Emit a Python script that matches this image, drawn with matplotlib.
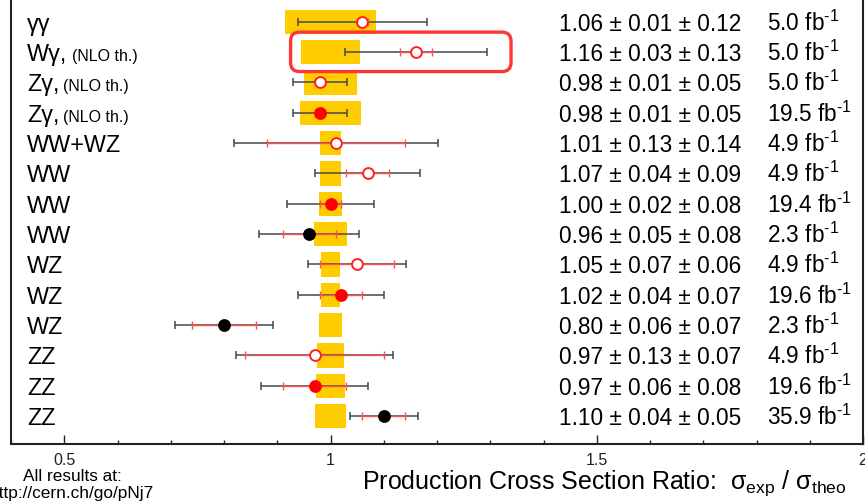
import numpy as np
import matplotlib
matplotlib.use("Agg")
import matplotlib.pyplot as plt
from matplotlib.ticker import MultipleLocator, FixedLocator
from matplotlib.patches import FancyBboxPatch
from matplotlib.transforms import IdentityTransform

plt.rcParams["font.family"] = ["Liberation Sans", "DejaVu Sans"]
plt.rcParams["mathtext.fontset"] = "custom"
plt.rcParams["mathtext.rm"] = "Liberation Sans"
plt.rcParams["mathtext.it"] = "Liberation Sans:italic"
plt.rcParams["mathtext.default"] = "regular"

# Measurements, top to bottom
processes = ["γγ", "Wγ,", "Zγ,", "Zγ,", "WW+WZ", "WW", "WW", "WW",
             "WZ", "WZ", "WZ", "ZZ", "ZZ", "ZZ"]
notes = ["", "(NLO th.)", "(NLO th.)", "(NLO th.)", "", "", "", "",
         "", "", "", "", "", ""]
ratio = [1.06, 1.16, 0.98, 0.98, 1.01, 1.07, 1.00, 0.96,
         1.05, 1.02, 0.80, 0.97, 0.97, 1.10]
stat = [0.01, 0.03, 0.01, 0.01, 0.13, 0.04, 0.02, 0.05,
        0.07, 0.04, 0.06, 0.13, 0.06, 0.04]
syst = [0.12, 0.13, 0.05, 0.05, 0.14, 0.09, 0.08, 0.08,
        0.06, 0.07, 0.07, 0.07, 0.08, 0.05]
lumi = ["5.0", "5.0", "5.0", "19.5", "4.9", "4.9", "19.4", "2.3",
        "4.9", "19.6", "2.3", "4.9", "19.6", "35.9"]
sqrt_s = [7, 7, 7, 8, 7, 7, 8, 13, 7, 8, 13, 7, 8, 13]
theory_unc = [0.086, 0.056, 0.049, 0.057, 0.019, 0.019, 0.021, 0.031,
              0.017, 0.017, 0.021, 0.026, 0.028, 0.030]
tick_values = [0.5, 1.0, 1.5, 2.0]
tick_labels = ["0.5", "1", "1.5", "2"]

W, H = 865, 502
fig = plt.figure(figsize=(W / 100, H / 100), dpi=100)

row_px = 30.33
ymin, ymax = -0.92, 14.6
ax_bottom = 57
ax_h = (ymax - ymin) * row_px
ax = fig.add_axes([11 / W, ax_bottom / H, (863 - 11) / W, ax_h / H])
ax.set_xlim(0.4, 2.0)
ax.set_ylim(ymin, ymax)

n = len(ratio)
ypos = np.arange(n)[::-1].astype(float)
ratio = np.array(ratio)
stat = np.array(stat)
total = np.sqrt(stat ** 2 + np.array(syst) ** 2)

# theory uncertainty bands around unity
ax.barh(ypos, 2 * np.array(theory_unc), left=1 - np.array(theory_unc),
        height=0.8, color="#ffcc00", zorder=1)

# total and statistical uncertainties
ax.errorbar(ratio, ypos, xerr=total, fmt="none", ecolor="#484848",
            elinewidth=1.1, capsize=3.2, capthick=1.1, zorder=2)
ax.errorbar(ratio, ypos, xerr=stat, fmt="none", ecolor="#ff5050",
            elinewidth=1.0, capsize=3.2, capthick=1.0, zorder=3)

styles = {7: dict(mfc="white", mec="#ff2020"),
          8: dict(mfc="#ff0000", mec="#ff0000"),
          13: dict(mfc="black", mec="black")}
for x, y, e in zip(ratio, ypos, sqrt_s):
    ax.plot(x, y, "o", ms=7.8, mew=1.4, zorder=4, **styles[e])


def px2x(p):
    return 0.4 + (p - 11) / ((863 - 11) / 1.6)


base_off = 0.26
for y, name, note, r, s, sy, L in zip(ypos, processes, notes, ratio, stat,
                                       syst, lumi):
    ax.text(px2x(27), y - base_off, name, fontsize=16.8, va="baseline",
            ha="left")
    if note:
        nx = px2x(72) if name.startswith("W") else px2x(63)
        ax.text(nx, y - base_off, note, fontsize=11.5, va="baseline",
                ha="left")
    ax.text(px2x(559), y - base_off, f"{r:.2f} ± {s:.2f} ± {sy:.2f}",
            fontsize=16.3, va="baseline", ha="left")
    ax.text(px2x(767), y - base_off, L + r" fb$^{\text{-}1}$", fontsize=16.3,
            va="baseline", ha="left")

for side in ["left", "right", "bottom"]:
    ax.spines[side].set_linewidth(1.5)
    ax.spines[side].set_color("#222222")
ax.spines["top"].set_visible(False)

ax.set_yticks([])
ax.xaxis.set_major_locator(FixedLocator(tick_values))
ax.set_xticklabels(tick_labels)
ax.xaxis.set_minor_locator(MultipleLocator(0.1))
ax.tick_params(axis="x", which="major", direction="in", length=6.5,
               width=1, pad=6, labelsize=11.5, colors="#222222")
ax.tick_params(axis="x", which="minor", direction="in", length=3,
               width=1, colors="#222222")

fig.text(362 / W, 13 / H,
         r"Production Cross Section Ratio:  σ$_{exp}$ / σ$_{theo}$",
         fontsize=18, ha="left", va="baseline")
fig.text(72 / W, 21 / H, "All results at:", fontsize=12.4, ha="center",
         va="baseline")
fig.text(72 / W, 4 / H, "http://cern.ch/go/pNj7", fontsize=12.4,
         ha="center", va="baseline")

# highlight box around the Wγ row
(x0, y0), (x1, y1) = ax.transData.transform([(0.925, ypos[1] - 0.64),
                                             (1.339, ypos[1] + 0.66)])
box = FancyBboxPatch((x0, y0), x1 - x0, y1 - y0,
                     boxstyle="round,pad=0,rounding_size=9",
                     transform=IdentityTransform(), fill=False,
                     ec="#ff3535", lw=2.4, zorder=10)
fig.add_artist(box)

fig.savefig("out.png", dpi=100)
